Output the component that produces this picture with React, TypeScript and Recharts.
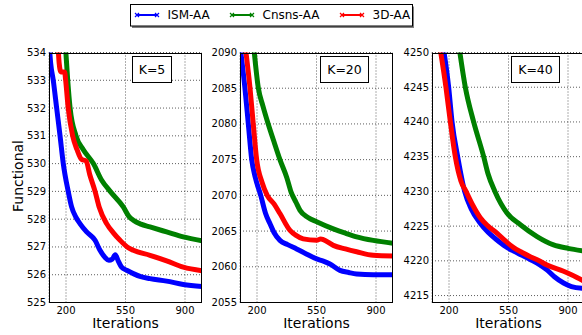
import { LineChart, Line, XAxis, YAxis, CartesianGrid } from "recharts";

type Pt = [number, number];

// iteration ticks shared by all panels
const iterTicks = [200, 550, 900];
const iterDomain = [100, 1000];

const legendNames = ["ISM-AA", "Cnsns-AA", "3D-AA"];
const legendColors = ["#0000ff", "#008000", "#ff0000"];

// K=5
const k5Ticks = [525, 526, 527, 528, 529, 530, 531, 532, 533, 534];
const k5Ism: Pt[] = [
	[100, 534.4], [110, 533.6], [125, 533.0], [145, 532.0], [165, 531.0], [184, 530.0],
	[213, 529.0], [233, 528.44], [260, 528.05], [282, 527.84], [320, 527.55], [371, 527.24],
	[400, 526.88], [430, 526.62], [452, 526.52], [472, 526.56], [490, 526.72], [507, 526.5],
	[527, 526.27], [560, 526.15], [596, 526.04], [640, 525.93], [694, 525.86], [792, 525.77],
	[890, 525.65], [1000, 525.58],
];
const k5Cnsns: Pt[] = [
	[195, 534.4], [210, 533.0], [224, 532.0], [259, 531.0], [302, 530.5], [361, 530.0],
	[410, 529.4], [460, 529.0], [537, 528.44], [570, 528.1], [596, 527.96], [640, 527.82],
	[694, 527.72], [792, 527.54], [890, 527.36], [1000, 527.22],
];
const k5ThreeD: Pt[] = [
	[152, 534.4], [160, 533.6], [170, 533.3], [192, 533.3], [198, 533.0], [213, 532.0],
	[239, 531.0], [265, 530.5], [292, 530.15], [318, 530.1], [340, 529.6], [371, 529.0],
	[395, 528.44], [439, 527.84], [480, 527.5], [518, 527.24], [560, 527.0], [596, 526.88],
	[694, 526.7], [792, 526.5], [890, 526.27], [1000, 526.14],
];

// K=20
const k20Ticks = [2055, 2060, 2065, 2070, 2075, 2080, 2085, 2090];
const k20Ism: Pt[] = [
	[100, 2091], [129, 2085], [149, 2080], [169, 2075], [190, 2072.5], [222, 2070],
	[250, 2067.5], [276, 2066.05], [300, 2064.8], [335, 2063.7], [380, 2063.1], [433, 2062.5],
	[490, 2061.8], [551, 2061.1], [590, 2060.8], [629, 2060.4], [688, 2059.5], [740, 2059.2],
	[786, 2059.0], [884, 2058.9], [1000, 2058.9],
];
const k20Cnsns: Pt[] = [
	[180, 2091], [208, 2085], [235, 2082.5], [266, 2080], [300, 2077.5], [335, 2075],
	[375, 2072.5], [400, 2070.5], [430, 2069.0], [453, 2067.9], [500, 2066.9], [551, 2066.3],
	[649, 2065.3], [720, 2064.7], [786, 2064.2], [884, 2063.7], [1000, 2063.3],
];
const k20ThreeD: Pt[] = [
	[130, 2091], [159, 2085], [178, 2080], [198, 2075], [230, 2071.8], [260, 2070],
	[300, 2068.8], [335, 2067.45], [394, 2065.1], [430, 2064.4], [472, 2063.9], [551, 2063.7],
	[575, 2063.9], [590, 2063.8], [649, 2063.0], [720, 2062.5], [786, 2062.1], [884, 2061.6],
	[1000, 2061.5],
];

// K=40
const k40Ticks = [4215, 4220, 4225, 4230, 4235, 4240, 4245, 4250];
const k40Ism: Pt[] = [
	[165, 4251], [198, 4245], [218, 4240], [251, 4235], [292, 4230], [330, 4227.5],
	[384, 4225.4], [430, 4224.1], [482, 4223.0], [530, 4222.1], [580, 4221.4], [630, 4220.8],
	[678, 4220.2], [730, 4219.5], [776, 4218.7], [820, 4217.7], [874, 4216.8], [920, 4216.3],
	[1000, 4216.0],
];
const k40Cnsns: Pt[] = [
	[258, 4251], [296, 4245], [345, 4240], [404, 4235], [430, 4232.5], [470, 4230],
	[541, 4226.9], [620, 4225.2], [718, 4223.5], [815, 4222.3], [900, 4221.8], [1000, 4221.4],
];
const k40ThreeD: Pt[] = [
	[145, 4251], [182, 4245], [208, 4240], [237, 4235], [270, 4231.5], [300, 4230],
	[340, 4228], [384, 4226.2], [430, 4225.0], [482, 4224.0], [530, 4222.9], [580, 4221.9],
	[630, 4221.2], [678, 4220.6], [730, 4220.0], [776, 4219.4], [874, 4218.5], [920, 4218.0],
	[1000, 4217.0],
];

const toRows = (pts: Pt[]) => pts.map(([it, v]) => ({ it, v }));

const FONT = "'DejaVu Sans', sans-serif";

function Panel({ left, domain, ticks, series, tag, tagLeft, tagWidth }: any) {
	return (
		<div style={{ position: "absolute", left, top: 0 }}>
			<LineChart width={193} height={335} margin={{ top: 52.5, right: 0, bottom: 0, left: 0 }}>
				<CartesianGrid stroke="#333" strokeDasharray="1 2" strokeWidth={0.8} />
				<XAxis
					type="number"
					dataKey="it"
					domain={iterDomain}
					ticks={iterTicks}
					allowDataOverflow
					height={32.5}
					axisLine={false}
					tickLine={false}
					tickSize={0}
					tickMargin={4}
					tick={{ fontSize: 10, fill: "#000" }}
					label={{ value: "Iterations", position: "insideBottom", offset: 7, fontSize: 14, fill: "#000" }}
				/>
				<YAxis
					type="number"
					domain={domain}
					ticks={ticks}
					allowDataOverflow
					width={40}
					axisLine={false}
					tickLine={false}
					tickSize={0}
					tickMargin={3}
					tick={{ fontSize: 10, fill: "#000" }}
				/>
				{series.map((s: Pt[], i: number) => (
					<Line
						key={legendNames[i]}
						data={toRows(s)}
						dataKey="v"
						type="monotone"
						stroke={legendColors[i]}
						strokeWidth={5}
						strokeLinejoin="round"
						dot={false}
						isAnimationActive={false}
					/>
				))}
			</LineChart>
			<div
				style={{
					position: "absolute", left: 40, top: 52.5, width: 153, height: 250,
					border: "1px solid #000", boxSizing: "border-box", pointerEvents: "none",
				}}
			/>
			<div
				style={{
					position: "absolute", left: tagLeft - left, top: 56, width: tagWidth, height: 27,
					border: "1px solid #000", boxSizing: "border-box", background: "#fff",
					fontSize: 12.5, lineHeight: "25px", textAlign: "center",
				}}
			>
				{tag}
			</div>
		</div>
	);
}

const legendX = [137, 232, 342];

export default function App() {
	return (
		<div
			style={{
				position: "fixed", left: 0, top: 0, width: 582, height: 335, overflow: "hidden",
				background: "#fff", fontFamily: FONT,
			}}
		>
			<Panel left={9} domain={[525, 534]} ticks={k5Ticks} series={[k5Ism, k5Cnsns, k5ThreeD]} tag="K=5" tagLeft={132} tagWidth={40} />
			<Panel left={200} domain={[2055, 2090]} ticks={k20Ticks} series={[k20Ism, k20Cnsns, k20ThreeD]} tag="K=20" tagLeft={320} tagWidth={49} />
			<Panel left={392} domain={[4214, 4250]} ticks={k40Ticks} series={[k40Ism, k40Cnsns, k40ThreeD]} tag="K=40" tagLeft={511} tagWidth={49} />
			<svg width={582} height={335} style={{ position: "absolute", left: 0, top: 0, pointerEvents: "none" }}>
				<text transform="translate(22.5,176) rotate(-90)" textAnchor="middle" fontSize={14} fill="#000">
					Functional
				</text>
				<rect x={132} y={6.5} width={282} height={21.5} fill="#7f7f7f" />
				<rect x={130.5} y={4.5} width={282} height={21.5} fill="#fff" stroke="#000" strokeWidth={1} />
				{legendNames.map((name, i) => {
					const x = legendX[i];
					return (
						<g key={name}>
							<line x1={x} x2={x + 20} y1={15} y2={15} stroke={legendColors[i]} strokeWidth={2} />
							{[x, x + 20].map((mx) => (
								<path
									key={mx}
									d={`M${mx - 2},${13} L${mx + 2},${17} M${mx - 2},${17} L${mx + 2},${13}`}
									stroke={legendColors[i]}
									strokeWidth={1.2}
								/>
							))}
							<text x={x + 30.5} y={19.3} fontSize={12} fill="#000">
								{name}
							</text>
						</g>
					);
				})}
			</svg>
		</div>
	);
}
